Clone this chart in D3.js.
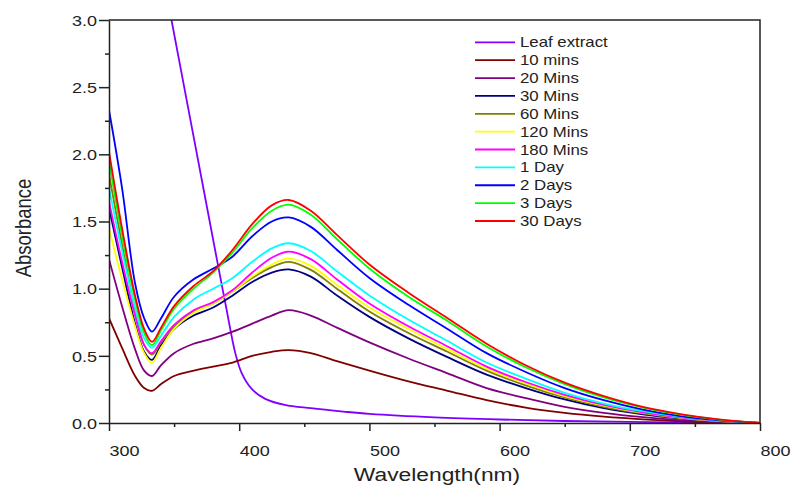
<!DOCTYPE html>
<html>
<head>
<meta charset="utf-8">
<title>Absorbance vs Wavelength</title>
<script src="https://cdnjs.cloudflare.com/ajax/libs/d3/7.8.5/d3.min.js"></script>
<style>
    body { margin: 0; background: #fff; }
    svg { display: block; font-family: "Liberation Sans", Arial, Helvetica, sans-serif; }
</style>
</head>
<body>

<div id="chart"></div>

<script>
// sample wavelengths (nm) for the timed spectra
var wavelengths = [300, 310, 320, 327, 333, 340, 350, 365, 380, 395, 410, 425, 438, 455, 475, 500, 530, 560, 590, 620, 650, 680, 710, 740, 770, 800];

// absorbance, one array per series
var mins10  = [0.78, 0.56, 0.35, 0.26, 0.24, 0.29, 0.35, 0.39, 0.42, 0.45, 0.50, 0.53, 0.543, 0.52, 0.46, 0.39, 0.31, 0.24, 0.17, 0.115, 0.075, 0.047, 0.027, 0.013, 0.005, 0];
var mins20  = [1.22, 0.87, 0.55, 0.39, 0.35, 0.43, 0.52, 0.59, 0.63, 0.68, 0.74, 0.80, 0.84, 0.80, 0.71, 0.60, 0.48, 0.37, 0.26, 0.185, 0.12, 0.075, 0.043, 0.02, 0.007, 0];
var mins30  = [1.60, 1.16, 0.74, 0.53, 0.47, 0.58, 0.70, 0.80, 0.86, 0.95, 1.05, 1.12, 1.144, 1.09, 0.95, 0.79, 0.63, 0.49, 0.36, 0.26, 0.175, 0.11, 0.065, 0.032, 0.012, 0];
var mins60  = [1.85, 1.33, 0.84, 0.58, 0.51, 0.60, 0.72, 0.83, 0.89, 0.98, 1.08, 1.16, 1.20, 1.14, 1.00, 0.83, 0.67, 0.53, 0.39, 0.28, 0.19, 0.12, 0.072, 0.035, 0.013, 0];
var mins120 = [1.45, 1.07, 0.72, 0.52, 0.45, 0.56, 0.70, 0.82, 0.89, 0.98, 1.09, 1.18, 1.226, 1.17, 1.03, 0.86, 0.70, 0.55, 0.405, 0.295, 0.20, 0.13, 0.077, 0.038, 0.014, 0];
var mins180 = [1.65, 1.20, 0.80, 0.58, 0.52, 0.61, 0.73, 0.84, 0.90, 0.99, 1.12, 1.23, 1.276, 1.22, 1.07, 0.89, 0.72, 0.57, 0.42, 0.305, 0.21, 0.135, 0.08, 0.04, 0.015, 0];
var day1    = [1.75, 1.28, 0.86, 0.63, 0.56, 0.65, 0.79, 0.92, 1.00, 1.08, 1.20, 1.30, 1.338, 1.28, 1.13, 0.95, 0.77, 0.61, 0.45, 0.33, 0.225, 0.145, 0.088, 0.045, 0.017, 0];
var days2   = [2.33, 1.75, 1.04, 0.78, 0.68, 0.78, 0.94, 1.07, 1.15, 1.24, 1.39, 1.50, 1.53, 1.46, 1.29, 1.08, 0.88, 0.70, 0.52, 0.38, 0.26, 0.17, 0.10, 0.05, 0.02, 0];
var days3   = [1.95, 1.40, 0.92, 0.67, 0.58, 0.69, 0.85, 1.00, 1.12, 1.27, 1.45, 1.58, 1.625, 1.55, 1.37, 1.15, 0.94, 0.76, 0.57, 0.415, 0.29, 0.19, 0.115, 0.06, 0.023, 0];
var days30  = [2.02, 1.45, 0.95, 0.70, 0.605, 0.71, 0.87, 1.02, 1.13, 1.29, 1.48, 1.62, 1.66, 1.58, 1.40, 1.18, 0.97, 0.78, 0.59, 0.43, 0.30, 0.20, 0.12, 0.065, 0.025, 0];

// the leaf extract spectrum has its own wavelengths
var leafWavelengths = [340, 348, 366, 384, 390, 397, 402, 410, 420, 435, 455, 480, 500, 550, 600, 650, 700, 750, 800];
var leafExtract     = [3.42, 3.0, 2.08, 1.16, 0.86, 0.52, 0.37, 0.25, 0.18, 0.135, 0.11, 0.085, 0.068, 0.042, 0.026, 0.015, 0.008, 0.003, 0];

var seriesNames  = ["Leaf extract", "10 mins", "20 Mins", "30 Mins", "60 Mins", "120 Mins", "180 Mins", "1 Day", "2 Days", "3 Days", "30 Days"];
var seriesColors = ["#8000ff", "#800000", "#800080", "#000080", "#808000", "#ffff00", "#ff00ff", "#00ffff", "#0000ff", "#00ff00", "#ff0000"];

var xTicks = [300, 400, 500, 600, 700, 800];
var xMinorTicks = [350, 450, 550, 650, 750];
var yTicks = [0, 0.5, 1, 1.5, 2, 2.5, 3];
var yMinorTicks = [0.25, 0.75, 1.25, 1.75, 2.25, 2.75];

var width = 792, height = 486;
var plotLeft = 109, plotRight = 760, plotTop = 20, plotBottom = 423;
var stretch = 1.2; // the picture's lettering is a little wide

var svg = d3.select("#chart").append("svg")
    .attr("width", width)
    .attr("height", height);

var x = d3.scaleLinear().domain([300, 800]).range([plotLeft, plotRight]);
var y = d3.scaleLinear().domain([0, 3]).range([plotBottom, plotTop]);

// build the series list from the arrays
var valueArrays = [leafExtract, mins10, mins20, mins30, mins60, mins120, mins180, day1, days2, days3, days30];
var series = seriesNames.map(function(name, i) {
    var xs = i === 0 ? leafWavelengths : wavelengths;
    return {
        name: name,
        color: seriesColors[i],
        points: valueArrays[i].map(function(v, j) { return [xs[j], v]; })
    };
});

svg.append("clipPath").attr("id", "plot-clip")
    .append("rect")
    .attr("x", plotLeft).attr("y", plotTop)
    .attr("width", plotRight - plotLeft).attr("height", plotBottom - plotTop);

var line = d3.line()
    .x(function(d) { return x(d[0]); })
    .y(function(d) { return y(d[1]); })
    .curve(d3.curveCatmullRom.alpha(0.5));

svg.append("g")
    .attr("clip-path", "url(#plot-clip)")
    .selectAll("path")
    .data(series)
    .enter().append("path")
    .attr("d", function(d) { return line(d.points); })
    .attr("fill", "none")
    .attr("stroke", function(d) { return d.color; })
    .attr("stroke-width", 1.8)
    .attr("stroke-linejoin", "round");

// frame (top and right sides)
svg.append("path")
    .attr("d", "M" + plotLeft + "," + plotTop + "H" + plotRight + "V" + plotBottom)
    .attr("fill", "none")
    .attr("stroke", "#222")
    .attr("stroke-width", 1.5);

// x axis
var xMinor = svg.append("g")
    .attr("transform", "translate(0," + plotBottom + ")")
    .call(d3.axisBottom(x).tickValues(xMinorTicks).tickSize(4).tickFormat(""));
xMinor.select(".domain").remove();

var xMajor = svg.append("g")
    .attr("transform", "translate(0," + plotBottom + ")")
    .call(d3.axisBottom(x).tickValues(xTicks).tickSize(8).tickSizeOuter(0).tickFormat(d3.format("d")));

xMajor.selectAll(".tick text")
    .attr("x", 0)
    .attr("y", 33)
    .attr("dy", null)
    .attr("text-anchor", "start")
    .attr("transform", "scale(" + stretch + ",1)")
    .style("font-size", "15px")
    .attr("fill", "#222");

// y axis
var yMinor = svg.append("g")
    .attr("transform", "translate(" + plotLeft + ",0)")
    .call(d3.axisLeft(y).tickValues(yMinorTicks).tickSize(4).tickFormat(""));
yMinor.select(".domain").remove();

var yMajor = svg.append("g")
    .attr("transform", "translate(" + plotLeft + ",0)")
    .call(d3.axisLeft(y).tickValues(yTicks).tickSize(10).tickSizeOuter(0).tickFormat(d3.format(".1f")));

yMajor.selectAll(".tick text")
    .attr("x", -12 / stretch)
    .attr("dy", "0.35em")
    .attr("transform", "scale(" + stretch + ",1)")
    .style("font-size", "15px")
    .attr("fill", "#222");

svg.selectAll(".domain, .tick line")
    .attr("stroke", "#222")
    .attr("stroke-width", 1.5);

// axis titles
svg.append("text")
    .attr("transform", "translate(437,481) scale(" + stretch + ",1)")
    .attr("text-anchor", "middle")
    .style("font-size", "19px")
    .attr("fill", "#222")
    .text("Wavelength(nm)");

svg.append("text")
    .attr("transform", "translate(31,228) scale(" + stretch + ",1) rotate(-90)")
    .attr("text-anchor", "middle")
    .style("font-size", "18.5px")
    .attr("fill", "#222")
    .text("Absorbance");

// legend
var legend = svg.append("g").selectAll("g")
    .data(series)
    .enter().append("g")
    .attr("transform", function(d, i) { return "translate(475," + (42.3 + i * 17.87) + ")"; });

legend.append("line")
    .attr("x1", 0).attr("x2", 40)
    .attr("y1", 0).attr("y2", 0)
    .attr("stroke", function(d) { return d.color; })
    .attr("stroke-width", 1.8);

legend.append("text")
    .attr("transform", "translate(45,5) scale(" + stretch + ",1)")
    .style("font-size", "14px")
    .attr("fill", "#222")
    .text(function(d) { return d.name; });
</script>

</body>
</html>
